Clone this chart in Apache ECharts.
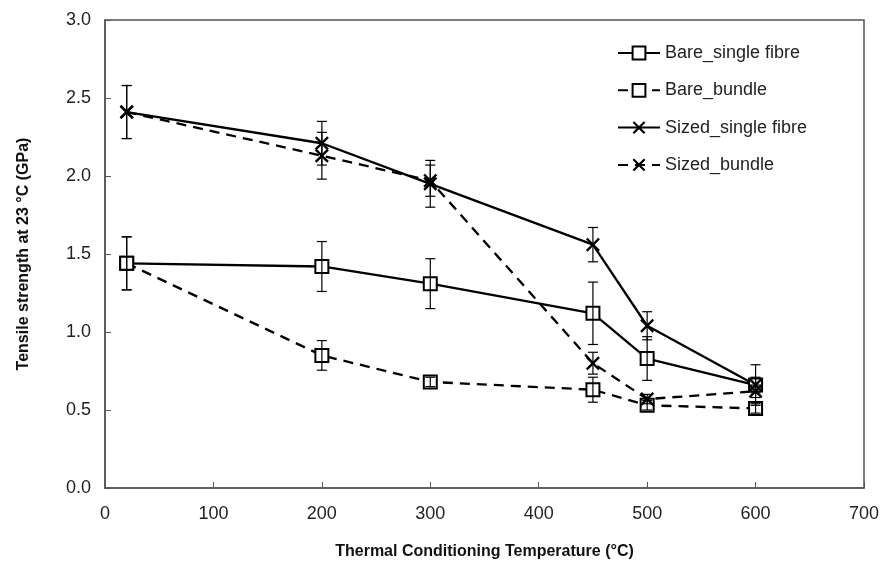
<!DOCTYPE html>
<html>
<head>
<meta charset="utf-8">
<script src="https://cdn.jsdelivr.net/npm/echarts@6/dist/echarts.min.js"></script>
<style>
html,body{margin:0;padding:0;background:#fff;}
#chart{width:884px;height:562px;}
</style>
</head>
<body>
<div id="chart"></div>
<script>
// temperatures (°C)
var temps = [20, 200, 300, 450, 500, 600];

// tensile strength (GPa) and error bars
var bareSingle = [1.44, 1.42, 1.31, 1.12, 0.83, 0.66];
var bareSingleErr = [0.17, 0.16, 0.16, 0.20, 0.14, 0.13];
var bareBundle = [1.44, 0.85, 0.68, 0.63, 0.53, 0.51];
var bareBundleErr = [0.17, 0.095, 0.03, 0.08, 0.03, 0.03];
var sizedSingle = [2.41, 2.21, 1.95, 1.56, 1.04, 0.66];
var sizedSingleErr = [0.17, 0.14, 0.15, 0.11, 0.09, 0.05];
var sizedBundle = [2.41, 2.13, 1.97, 0.80, 0.57, 0.62];
var sizedBundleErr = [0.17, 0.15, 0.10, 0.07, 0.03, 0.04];

var names = ['Bare_single fibre', 'Bare_bundle', 'Sized_single fibre', 'Sized_bundle'];
var xTicks = [0, 100, 200, 300, 400, 500, 600, 700];
var yTicks = [0, 0.5, 1.0, 1.5, 2.0, 2.5, 3.0];

var crossPath = 'path://M0,1.2L1.2,0L5,3.8L8.8,0L10,1.2L6.2,5L10,8.8L8.8,10L5,6.2L1.2,10L0,8.8L3.8,5Z';

function pts(vals){
  var out=[];
  vals.forEach(function(v,i){ out.push([temps[i], v]); });
  return out;
}

function lineSeries(name, vals, dashed, cross){
  return {
    name: name,
    type: 'line',
    data: pts(vals),
    symbol: cross ? crossPath : 'rect',
    symbolSize: cross ? 14 : 13,
    lineStyle: {color:'#000', width:2.3, type: dashed ? [10,7] : 'solid'},
    itemStyle: cross ? {color:'#000', borderWidth:0} : {color:'#fff', borderColor:'#000', borderWidth:2},
    emphasis: {disabled:true},
    z: 3
  };
}

function errSeries(vals, errs){
  var d=[];
  vals.forEach(function(v,i){ d.push([temps[i], v-errs[i], v+errs[i]]); });
  return {
    type: 'custom',
    data: d,
    z: 4,
    silent: true,
    renderItem: function(params, api){
      var lo = api.coord([api.value(0), api.value(1)]);
      var hi = api.coord([api.value(0), api.value(2)]);
      var w = 5;
      var st = {stroke:'#000', lineWidth:1.2};
      return {
        type:'group',
        children:[
          {type:'line', shape:{x1:lo[0],y1:lo[1],x2:hi[0],y2:hi[1]}, style:st},
          {type:'line', shape:{x1:lo[0]-w,y1:lo[1],x2:lo[0]+w,y2:lo[1]}, style:st},
          {type:'line', shape:{x1:hi[0]-w,y1:hi[1],x2:hi[0]+w,y2:hi[1]}, style:st}
        ]
      };
    }
  };
}

var myChart = echarts.init(document.getElementById('chart'));
var option = {
  animation: false,
  textStyle: {fontFamily: 'Liberation Sans, Arial, sans-serif'},
  grid: {left:105, right:20, top:20, bottom:74, show:true, borderColor:'#555', borderWidth:1.5,
         outerBoundsMode:'none', containLabel:false},
  legend: {
    data: names,
    orient: 'vertical',
    left: 612,
    top: 39,
    itemWidth: 42,
    itemHeight: 16,
    itemGap: 19.3,
    textStyle: {fontSize:18, color:'#222'},
    selectedMode: false
  },
  xAxis: {
    type: 'value',
    min: xTicks[0], max: xTicks[xTicks.length-1], interval: 100,
    name: 'Thermal Conditioning Temperature (°C)',
    nameLocation: 'middle', nameGap: 56,
    nameTextStyle: {fontSize:16, fontWeight:'bold', color:'#111'},
    axisLine: {lineStyle:{color:'#555', width:1.5}},
    axisTick: {inside:true, length:6, lineStyle:{color:'#555'}},
    axisLabel: {fontSize:18, color:'#222', margin:17},
    splitLine: {show:false}
  },
  yAxis: {
    type: 'value',
    min: yTicks[0], max: yTicks[yTicks.length-1], interval: 0.5,
    name: 'Tensile strength at 23 °C (GPa)',
    nameLocation: 'middle', nameGap: 73,
    nameTextStyle: {fontSize:16, fontWeight:'bold', color:'#111'},
    axisLine: {show:true, lineStyle:{color:'#555', width:1.5}},
    axisTick: {show:true, inside:true, length:6, lineStyle:{color:'#555'}},
    axisLabel: {fontSize:18, color:'#222', margin:14, formatter:function(v){return v.toFixed(1);}},
    splitLine: {show:false}
  },
  series: [
    lineSeries(names[0], bareSingle, false, false),
    lineSeries(names[1], bareBundle, true, false),
    lineSeries(names[2], sizedSingle, false, true),
    lineSeries(names[3], sizedBundle, true, true),
    errSeries(bareSingle, bareSingleErr),
    errSeries(bareBundle, bareBundleErr),
    errSeries(sizedSingle, sizedSingleErr),
    errSeries(sizedBundle, sizedBundleErr)
  ]
};
myChart.setOption(option);
</script>
</body>
</html>
